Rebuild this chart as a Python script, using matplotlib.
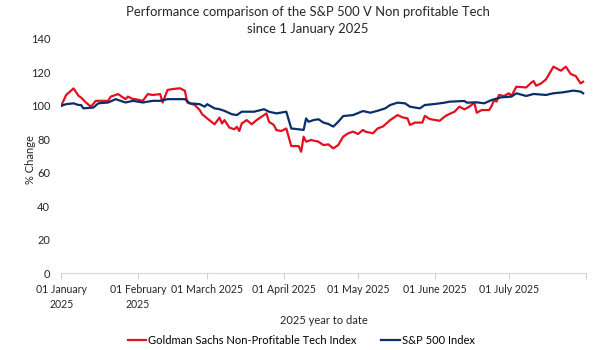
import matplotlib
matplotlib.use("Agg")
import matplotlib.pyplot as plt
import numpy as np
import datetime as dt

# Day offsets from 2025-01-01 and values (% of start level)
gs_days = [0, 2, 5, 7, 8, 10, 12, 14, 19, 20, 23, 26, 27, 29, 30, 33, 35, 37, 40, 41, 43, 45, 48, 50, 51,
           54, 56, 57, 59, 62, 64, 65, 66, 68, 70, 71, 72, 73, 75, 77, 79, 83, 84, 86, 87, 89, 91, 93, 96,
           97, 98, 99, 101, 104, 106, 108, 110, 112, 114, 116, 118, 120, 122, 123, 126, 128, 130, 133, 136,
           138, 140, 141, 143, 146, 147, 149, 153, 155, 156, 159, 161, 163, 165, 167, 168, 170, 173, 174,
           175, 176, 177, 179, 181, 182, 184, 188, 190, 191, 192, 194, 196, 199, 202, 204, 206, 208, 210, 211]
gs_vals = [100, 106.5, 110.4, 106, 105, 102, 99.5, 103, 103, 105.5, 107, 104, 105.5, 104, 104, 103, 107,
           106.5, 107, 102, 109.5, 110, 110.5, 109, 102, 100.5, 97.5, 95, 92.5, 89, 93, 89.5, 91.5, 87, 86,
           87.5, 85, 89.5, 91.5, 89, 91.5, 95.5, 90.5, 88.5, 85.5, 85, 86.5, 76, 76, 72.6, 81.6, 78.6, 79.6,
           78.6, 76.6, 77, 74.6, 76.6, 81.6, 83.6, 84.6, 83.2, 85.6, 84.6, 83.6, 86.6, 87.6, 91.5, 94.5, 93.1,
           92.5, 88.6, 90, 90, 94, 92.1, 91.1, 93.5, 94.5, 96.5, 99.5, 97.9, 99.5, 101.9, 95.9, 97.5, 97.5,
           99.9, 103.5, 102.5, 106.5, 105.9, 107.5, 105.9, 111.4, 111, 113.8, 114.8, 112, 113.4, 115.8,
           123.4, 121, 123.4, 119, 117.8, 113.4, 114.4]

sp_days = [0, 2, 5, 7, 8, 9, 13, 15, 19, 22, 26, 29, 33, 37, 40, 43, 50, 52, 56, 58, 59, 62, 64, 66, 69,
           71, 73, 76, 78, 82, 84, 87, 91, 93, 96, 98, 99, 100, 102, 104, 106, 108, 110, 112, 114, 118,
           122, 125, 128, 131, 133, 136, 139, 141, 145, 147, 151, 155, 157, 163, 164, 168, 171, 174, 178,
           182, 184, 188, 191, 196, 199, 203, 207, 210, 211]
sp_vals = [100, 101, 101.5, 100.5, 100.5, 98.5, 99, 101.5, 102, 104, 102, 103, 102, 103, 103, 104, 104,
           101.5, 101, 99.5, 101, 98.5, 98, 97, 95, 94.5, 96.5, 96.5, 96.5, 98, 96.5, 95.5, 96.5, 86.5, 86,
           85.6, 92.5, 90.5, 91.5, 92, 90, 89.2, 87.6, 90.5, 93.9, 94.5, 96.9, 95.9, 97.1, 98.5, 100.5,
           101.9, 101.5, 99.5, 98.5, 100.5, 101.1, 101.9, 102.5, 102.9, 101.9, 102.1, 101.5, 103.5, 105.1,
           105.5, 107.5, 105.9, 107.1, 106.5, 107.5, 108.1, 109.1, 108.5, 107.5]

series_names = ["Goldman Sachs Non-Profitable Tech Index", "S&P 500 Index"]
tick_months = [1, 2, 3, 4, 5, 6, 7, 8]
tick_labels = ["01 January\n2025", "01 February\n2025", "01 March 2025", "01 April 2025",
               "01 May 2025", "01 June 2025", "01 July 2025", ""]
y_ticks = [0, 20, 40, 60, 80, 100, 120, 140]

start = dt.date(2025, 1, 1)
gs_dates = [start + dt.timedelta(days=d) for d in gs_days]
sp_dates = [start + dt.timedelta(days=d) for d in sp_days]

plt.rcParams['font.family'] = ['Lato', 'DejaVu Sans']
RED = "#E3101F"
NAVY = "#0A2E69"
TXT = "#262626"
FS = 8.0

fig = plt.figure(figsize=(6, 3.5), dpi=100)
ax = fig.add_axes([0.102, 0.219, 0.874, 0.670])

ax.plot(gs_dates, gs_vals, color=RED, lw=1.6, label=series_names[0])
ax.plot(sp_dates, sp_vals, color=NAVY, lw=1.6, label=series_names[1])

ticks = [dt.date(2025, m, 1) for m in tick_months]
ax.set_xticks(ticks)
ax.set_xticklabels(tick_labels, fontsize=7.6, color=TXT, linespacing=1.35)
ax.set_xlim(dt.date(2025, 1, 1), dt.date(2025, 8, 1))
ax.set_ylim(0, 140)
ax.set_yticks(y_ticks)
ax.tick_params(axis='y', length=0, pad=8, labelsize=FS, labelcolor=TXT)
ax.tick_params(axis='x', length=4, color="#d0d0d0", pad=4)
for s in ['top', 'right', 'left']:
    ax.spines[s].set_visible(False)
ax.spines['bottom'].set_color("#d9d9d9")

fig.text(30 / 600, 1 - 160 / 350, "% Change", rotation=90, fontsize=FS, color=TXT,
         ha='center', va='center')
fig.text(324 / 600, 1 - 320 / 350, "2025 year to date", fontsize=FS, color=TXT,
         ha='center', va='center')

fig.text(308 / 600, 1 - 12 / 350, "Performance comparison of the S&P 500 V Non profitable Tech",
         fontsize=9.4, color=TXT, ha='center', va='center')
fig.text(308 / 600, 1 - 29 / 350, "since 1 January 2025",
         fontsize=9.4, color=TXT, ha='center', va='center')

h, l = ax.get_legend_handles_labels()
fig.legend(h, l, loc='center', bbox_to_anchor=(301 / 600, 1 - 340 / 350), ncol=2, frameon=False,
           fontsize=FS, handlelength=1.7, handletextpad=0.15, columnspacing=2.2, borderaxespad=0,
           borderpad=0)

fig.savefig("out.png", dpi=100)
